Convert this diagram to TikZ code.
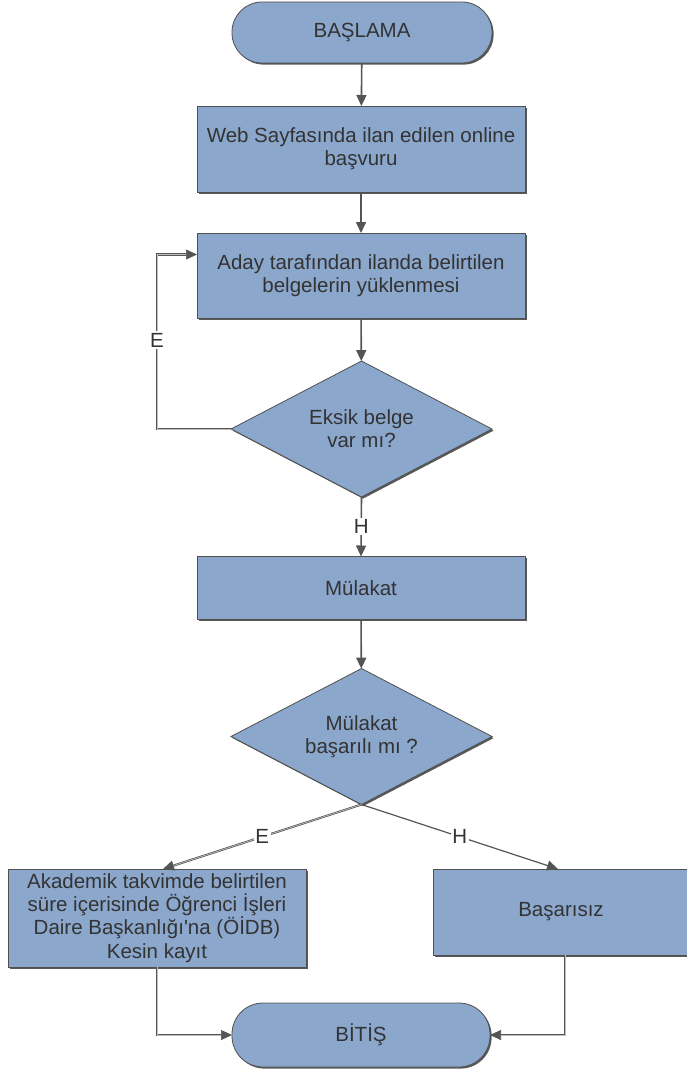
\documentclass[tikz,border=0pt]{standalone}
\usepackage{fontspec}
\setmainfont{Liberation Sans}
\newfontfamily\plainsans{Liberation Sans}
\usetikzlibrary{arrows.meta,shapes.geometric,shadows}
\definecolor{boxfill}{RGB}{139,167,204}
\definecolor{boxline}{RGB}{80,80,80}
\definecolor{txt}{RGB}{51,51,51}
\definecolor{conn}{RGB}{85,85,85}
\begin{document}
\begin{tikzpicture}[x=1pt,y=-1pt,
  font=\plainsans\fontsize{20.5}{23.3}\selectfont,
  base/.style={fill=boxfill,draw=boxline,line width=0.8pt,text=txt,align=center,inner sep=0pt,outer sep=0pt,
    drop shadow={shadow xshift=1.6pt,shadow yshift=-1.6pt,fill=black!65,opacity=1}},
  proc/.style={base,rectangle},
  term/.style={base,rectangle,rounded corners=30pt},
  dec/.style={base,diamond,aspect=1.92,minimum width=261pt,minimum height=136pt},
  arr/.style={draw=conn,line width=1.6pt,-{Triangle[length=11pt,width=10pt]}},
  darr/.style={draw=conn,line width=0.7pt,double=black!25,double distance=0.7pt,-{Triangle[length=11pt,width=10pt]}},
  lbl/.style={fill=white,text=txt,inner sep=1.5pt}
]
\useasboundingbox (0,0) rectangle (687,1070);
\node[term,minimum width=260pt,minimum height=61pt] (s) at (362,32.5) {BAŞLAMA};
\node[proc,minimum width=328pt,minimum height=86pt] (b1) at (361,149) {Web Sayfasında ilan edilen online\\başvuru};
\node[proc,minimum width=328pt,minimum height=85pt] (b2) at (361,275.5) {Aday tarafından ilanda belirtilen\\belgelerin yüklenmesi};
\node[dec] (d1) at (361.5,429) {Eksik belge\\var mı?};
\node[proc,minimum width=328pt,minimum height=63pt] (b3) at (361,588) {Mülakat};
\node[dec] (d2) at (361.5,736.5) {Mülakat\\başarılı mı ?};
\node[proc,minimum width=298pt,minimum height=98pt] (b4) at (157,918) {Akademik takvimde belirtilen\\süre içerisinde Öğrenci İşleri\\Daire Başkanlığı'na (ÖİDB)\\Kesin kayıt};
\node[proc,minimum width=256pt,minimum height=86pt] (b5) at (561,912) {Başarısız};
\node[term,minimum width=258pt,minimum height=64pt,rounded corners=31pt] (e) at (361,1035) {BİTİŞ};

\coordinate (lp) at (157,429);
\draw[arr] (s) -- (b1);
\draw[arr] (b1) -- (b2);
\draw[arr] (b2) -- (d1);
\draw[darr] (d1.west) -- (lp) |- ([yshift=21pt]b2.west);
\node[lbl] (le) at (157,340) {E};
\draw[arr] (d1.south) -- (b3.north) node[lbl,pos=0.5] (lh) {H};
\draw[arr] (b3) -- (d2);
\draw[darr] (d2.south) -- ([xshift=6pt]b4.north) node[lbl,pos=0.5] (le2) {E};
\draw[arr,line width=1.2pt] (d2.south) -- ([xshift=-3pt]b5.north) node[lbl,pos=0.5] (lh2) {H};
\draw[darr] (b4.south) |- (e.west);
\draw[darr] ([xshift=4pt]b5.south) |- (e.east);
\end{tikzpicture}
\end{document}
